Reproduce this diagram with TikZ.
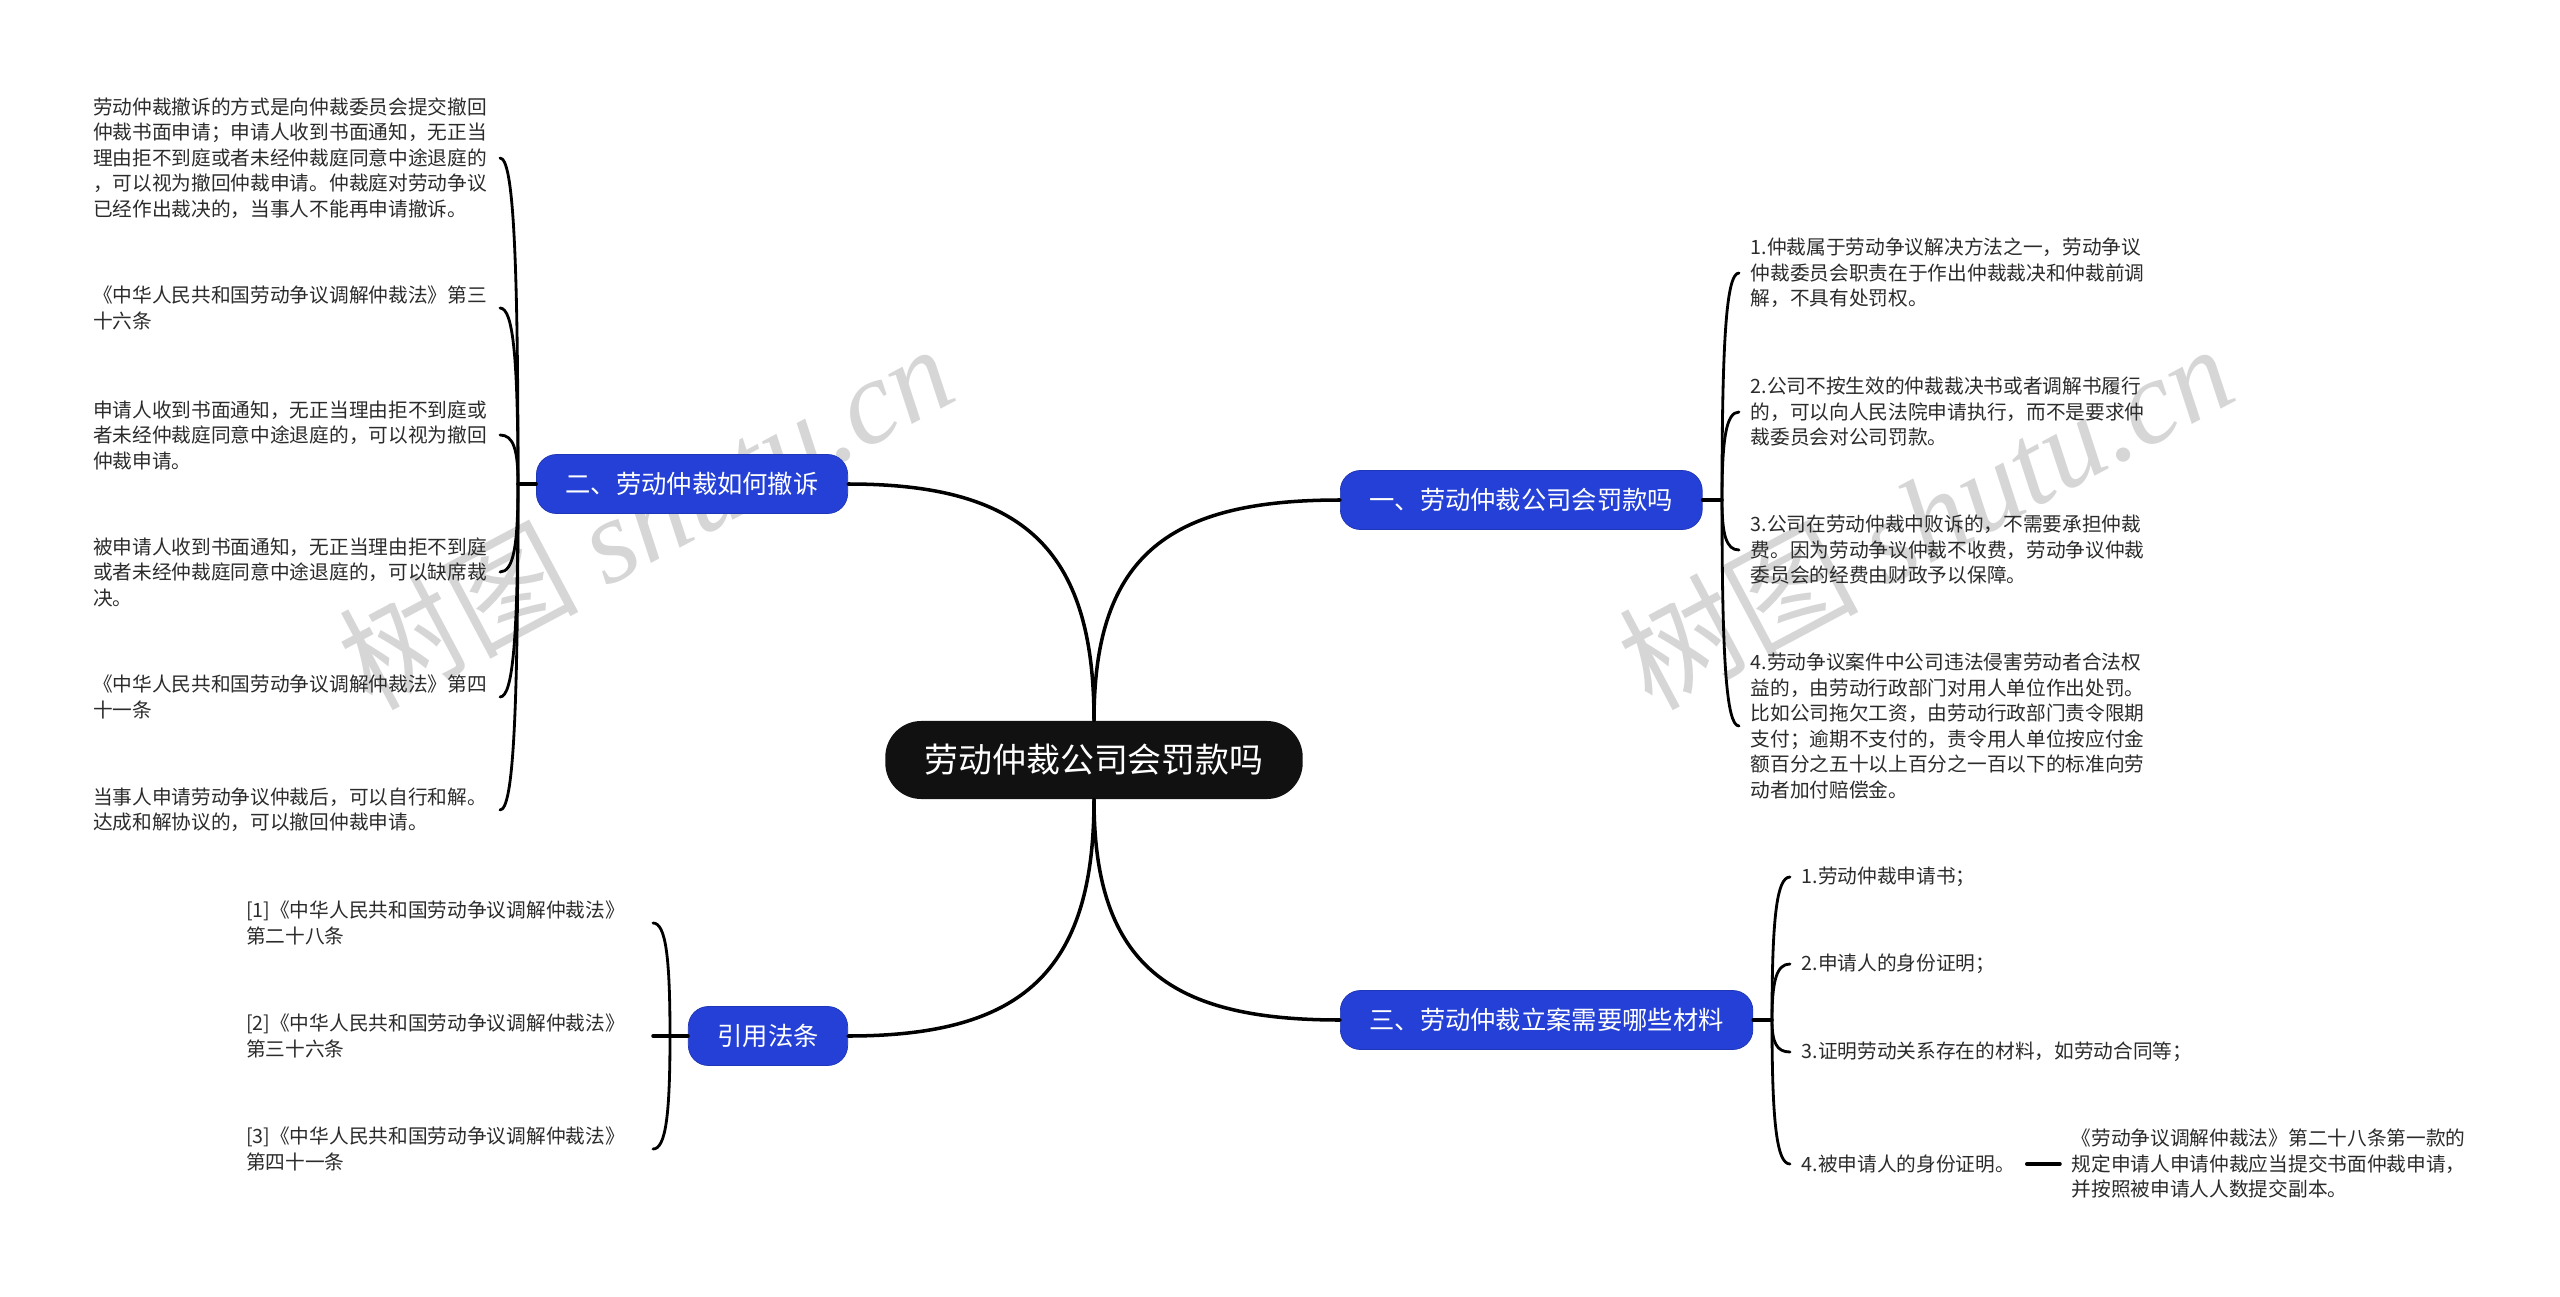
\documentclass[tikz,border=0pt]{standalone}
\usepackage{fontspec}
\usetikzlibrary{calc}
\setmainfont{Noto Sans CJK SC}
\newfontfamily\marklatin{Liberation Serif}
\definecolor{branchblue}{HTML}{2440D6}
\definecolor{rootblack}{HTML}{111111}
\definecolor{leafgray}{HTML}{2B2B2B}
\definecolor{markgray}{HTML}{D6D6D6}
\tikzset{
    leaf/.style={align=left, text=leafgray, inner xsep=0.11cm, inner ysep=0pt,
        font=\fontsize{5.6}{7.25}\selectfont},
    longleaf/.style={leaf, text width=3.95cm},
    branch/.style={fill=branchblue, draw=branchblue!85!black, line width=0.2pt, text=white,
        rounded corners=0.2cm, inner xsep=0.29cm, inner ysep=0pt, minimum height=0.59cm,
        font=\fontsize{7.2}{8}\selectfont},
    rootnode/.style={fill=rootblack, text=white, rounded corners=0.36cm,
        inner xsep=0.39cm, inner ysep=0pt, minimum height=0.78cm,
        font=\fontsize{9.65}{11}\selectfont},
    link/.style={draw=black, line width=1pt, line cap=round},
    thinlink/.style={draw=black, line width=0.8pt, line cap=round},
    brace/.style={to path={.. controls ($(\tikztostart)!0.7!(\tikztostart |- \tikztotarget)$) and ($(\tikztostart |- \tikztotarget)!0.25!(\tikztotarget)$) .. (\tikztotarget)}},
    watermark/.style={text=markgray, rotate=28, inner sep=0pt, anchor=center,
        font=\fontsize{34}{36}\selectfont}
}
\begin{document}
\begin{tikzpicture}[x=0.01cm, y=-0.01cm]

    \useasboundingbox (0,0) rectangle (2560,1297);

    \node[watermark] (mark1) at (645,515) {树图 {\marklatin\itshape shutu.cn}};
    \node[watermark] (mark2) at (1925,515) {树图 {\marklatin\itshape shutu.cn}};

    \node[rootnode] (root) at (1094,760) {劳动仲裁公司会罚款吗};

    \node[branch, anchor=west] (b1) at (1340,500) {一、劳动仲裁公司会罚款吗};
    \node[branch, anchor=east] (b2) at (848,484) {二、劳动仲裁如何撤诉};
    \node[branch, anchor=west] (b3) at (1340,1020) {三、劳动仲裁立案需要哪些材料};
    \node[branch, anchor=east] (b4) at (848,1036) {引用法条};

    \coordinate (t1) at (1722,500);
    \coordinate (t2) at (518,484);
    \coordinate (t3) at (1772,1020);
    \coordinate (t4) at (670,1036);

    % right top
    \node[longleaf, anchor=west] (r1) at (1739,273) {1.仲裁属于劳动争议解决方法之一，劳动争议\\仲裁委员会职责在于作出仲裁裁决和仲裁前调\\解，不具有处罚权。};
    \node[longleaf, anchor=west] (r2) at (1739,412) {2.公司不按生效的仲裁裁决书或者调解书履行\\的，可以向人民法院申请执行，而不是要求仲\\裁委员会对公司罚款。};
    \node[longleaf, anchor=west] (r3) at (1739,550) {3.公司在劳动仲裁中败诉的，不需要承担仲裁\\费。因为劳动争议仲裁不收费，劳动争议仲裁\\委员会的经费由财政予以保障。};
    \node[longleaf, anchor=west] (r4) at (1739,726) {4.劳动争议案件中公司违法侵害劳动者合法权\\益的，由劳动行政部门对用人单位作出处罚。\\比如公司拖欠工资，由劳动行政部门责令限期\\支付；逾期不支付的，责令用人单位按应付金\\额百分之五十以上百分之一百以下的标准向劳\\动者加付赔偿金。};

    % left top
    \node[longleaf, anchor=east] (l1) at (500,158) {劳动仲裁撤诉的方式是向仲裁委员会提交撤回\\仲裁书面申请；申请人收到书面通知，无正当\\理由拒不到庭或者未经仲裁庭同意中途退庭的\\，可以视为撤回仲裁申请。仲裁庭对劳动争议\\已经作出裁决的，当事人不能再申请撤诉。};
    \node[longleaf, anchor=east] (l2) at (500,308) {《中华人民共和国劳动争议调解仲裁法》第三\\十六条};
    \node[longleaf, anchor=east] (l3) at (500,435) {申请人收到书面通知，无正当理由拒不到庭或\\者未经仲裁庭同意中途退庭的，可以视为撤回\\仲裁申请。};
    \node[longleaf, anchor=east] (l4) at (500,572) {被申请人收到书面通知，无正当理由拒不到庭\\或者未经仲裁庭同意中途退庭的，可以缺席裁\\决。};
    \node[longleaf, anchor=east] (l5) at (500,697) {《中华人民共和国劳动争议调解仲裁法》第四\\十一条};
    \node[longleaf, anchor=east] (l6) at (500,810) {当事人申请劳动争议仲裁后，可以自行和解。\\达成和解协议的，可以撤回仲裁申请。};

    % right bottom
    \node[leaf, anchor=west] (m1) at (1790,877) {1.劳动仲裁申请书；};
    \node[leaf, anchor=west] (m2) at (1790,964) {2.申请人的身份证明；};
    \node[leaf, anchor=west] (m3) at (1790,1052) {3.证明劳动关系存在的材料，如劳动合同等；};
    \node[leaf, anchor=west] (m4) at (1790,1164) {4.被申请人的身份证明。};
    \node[longleaf, anchor=west] (m5) at (2060,1164) {《劳动争议调解仲裁法》第二十八条第一款的\\规定申请人申请仲裁应当提交书面仲裁申请，\\并按照被申请人人数提交副本。};

    % left bottom
    \node[longleaf, anchor=east] (c1) at (653,923) {[1]《中华人民共和国劳动争议调解仲裁法》\\第二十八条};
    \node[longleaf, anchor=east] (c2) at (653,1036) {[2]《中华人民共和国劳动争议调解仲裁法》\\第三十六条};
    \node[longleaf, anchor=east] (c3) at (653,1149) {[3]《中华人民共和国劳动争议调解仲裁法》\\第四十一条};

    \draw[link] (root.north) to[out=90, in=180, looseness=1.3] (b1.west);
    \draw[link] (root.north) to[out=90, in=0, looseness=1.3] (b2.east);
    \draw[link] (root.south) to[out=-90, in=180, looseness=1.3] (b3.west);
    \draw[link] (root.south) to[out=-90, in=0, looseness=1.3] (b4.east);

    \draw[link] (b1.east) -- (t1);
    \draw[link] (b2.west) -- (t2);
    \draw[link] (b3.east) -- (t3);
    \draw[link] (b4.west) -- (c2.east);

    \foreach \leafname in {r1,r2,r3,r4}
        \draw[thinlink] (t1) to[brace] (\leafname.west);
    \foreach \leafname in {l1,l2,l3,l4,l5,l6}
        \draw[thinlink] (t2) to[brace] (\leafname.east);
    \foreach \leafname in {m1,m2,m3,m4}
        \draw[thinlink] (t3) to[brace] (\leafname.west);
    \foreach \leafname in {c1,c3}
        \draw[thinlink] (t4) to[brace] (\leafname.east);

    \draw[link] (m4.east) -- (m5.west);

\end{tikzpicture}
\end{document}
